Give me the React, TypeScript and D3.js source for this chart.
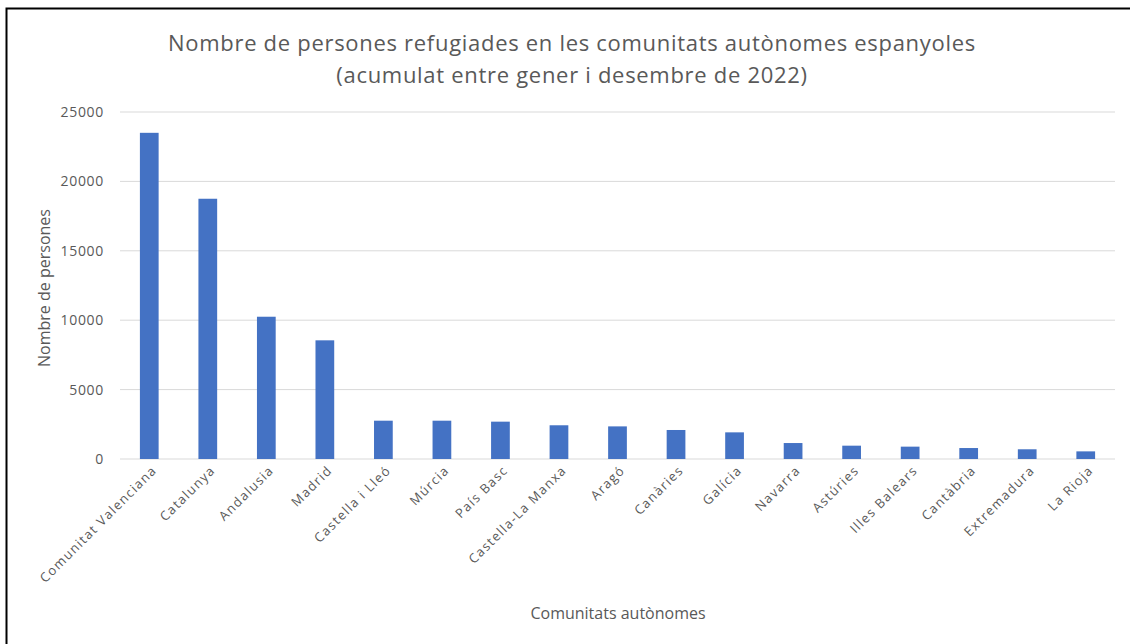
import React from "react";
import * as d3 from "d3";

const categories = [
  "Comunitat Valenciana", "Catalunya", "Andalusia", "Madrid", "Castella i Lleó",
  "Múrcia", "País Basc", "Castella-La Manxa", "Aragó", "Canàries", "Galícia",
  "Navarra", "Astúries", "Illes Balears", "Cantàbria", "Extremadura", "La Rioja",
];
const values = [
  23500, 18750, 10250, 8550, 2760, 2760, 2690, 2430, 2350, 2090, 1920,
  1150, 960, 890, 790, 700, 550,
];
const yTicks = [0, 5000, 10000, 15000, 20000, 25000];
const titleLines = [
  "Nombre de persones refugiades en les comunitats autònomes espanyoles",
  "(acumulat entre gener i desembre de 2022)",
];
const yTitle = "Nombre de persones";
const xTitle = "Comunitats autònomes";

const W = 1130, H = 644;
const left = 120, right = 1115, top = 112, bottom = 459;
const FONT = "'Open Sans', Lato, sans-serif";
const TEXT = "#595959";

export default function App() {
  const x = d3.scaleBand<string>().domain(categories).range([left, right]).paddingInner(0.68).paddingOuter(0.34);
  const y = d3.scaleLinear().domain([0, 25000]).range([bottom, top]);
  return (
    <svg width={W} height={H} style={{ position: "absolute", left: 0, top: 0, background: "#fff" }} fontFamily={FONT}>
      <rect x={0} y={0} width={W} height={H} fill="#fff" />
      <path d={`M6.5,${H} L6.5,8.5 L${W},8.5`} fill="none" stroke="#000" strokeWidth={2} />
      {titleLines.map((t, i) => (
        <text key={i} x={572} y={51 + i * 32} textAnchor="middle" fontSize={22} letterSpacing={0.7} fill={TEXT}>{t}</text>
      ))}
      {yTicks.map((t) => (
        <g key={t}>
          <line x1={left} x2={right} y1={y(t)} y2={y(t)} stroke="#d9d9d9" strokeWidth={1} />
          <text x={104} y={y(t)} dy="0.35em" textAnchor="end" fontSize={14} letterSpacing={0.7} fill={TEXT}>{t}</text>
        </g>
      ))}
      {categories.map((c, i) => (
        <rect key={c} x={x(c)} y={y(values[i])} width={x.bandwidth()} height={y(0) - y(values[i])} fill="#4472c4" />
      ))}
      {categories.map((c) => {
        const cx = (x(c) as number) + x.bandwidth() / 2 + 5;
        const cy = 468;
        return (
          <text key={c} transform={`translate(${cx},${cy}) rotate(-45)`} textAnchor="end" fontSize={13} letterSpacing={1.3} fill={TEXT} dy="0.35em">{c}</text>
        );
      })}
      <text transform={`translate(50,288) rotate(-90)`} textAnchor="middle" fontSize={16} fill={TEXT}>{yTitle}</text>
      <text x={618} y={619} textAnchor="middle" fontSize={16} fill={TEXT}>{xTitle}</text>
    </svg>
  );
}
